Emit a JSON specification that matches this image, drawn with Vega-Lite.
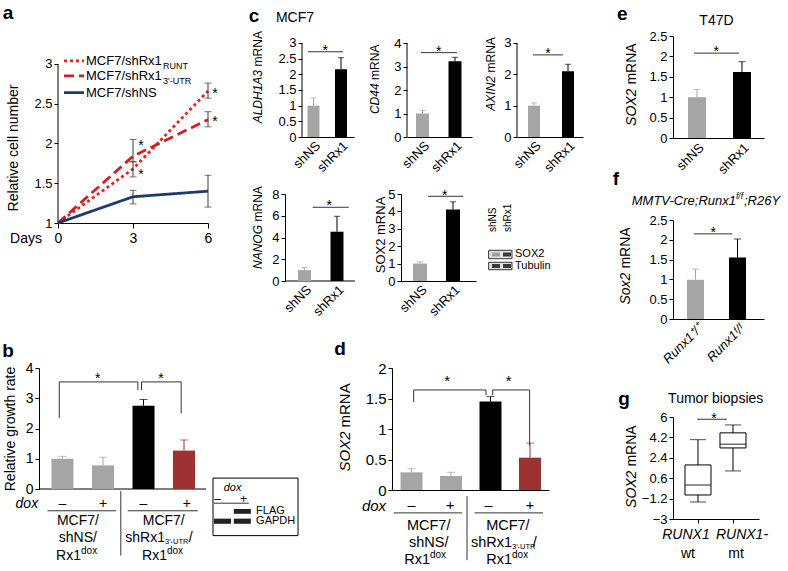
{
"$schema": "https://vega.github.io/schema/vega-lite/v6.json",
"padding": 0,
"config": {
  "font": "Liberation Sans",
  "view": {"stroke": null},
  "concat": {"spacing": 0},
  "scale": {"continuousPadding": 0},
  "axis": {"grid": false, "zindex": 1, "domainColor": "#000", "tickColor": "#000", "labelColor": "#000", "titleColor": "#000", "labelFontSize": 13, "titleFontSize": 14, "titleFontWeight": "normal", "tickSize": 4, "labelPadding": 2, "labelFlush": false, "labelOverlap": false, "domainWidth": 1, "tickWidth": 1},
  "text": {"fontSize": 14, "color": "#000"}
},
"spacing": 0,
"hconcat": [
 {"spacing": 0, "vconcat": [
  {"spacing": 0, "hconcat": [
   {"width": 150, "height": 187,
    "encoding": {"x": {"field": "x", "type": "quantitative", "scale": {"domain": [0, 6], "nice": false, "zero": false, "padding": 0}, "axis": {"values": [0, 3, 6], "title": null, "format": "d", "tickSize": 5, "labelPadding": 3, "labelFontSize": 14}},
                 "y": {"field": "y", "type": "quantitative", "scale": {"domain": [1, 3.352], "nice": false, "zero": false, "padding": 0}, "axis": {"values": [1, 1.5, 2, 2.5, 3], "format": ".1~f", "title": null, "domain": false}}},
    "layer": [
    {"data": {"values": [{"x": -2.28, "x2": 7.32, "y": -0.384, "y2": 3.792}]}, "mark": {"type": "rect", "opacity": 0}, "encoding": {"x2": {"field": "x2"}, "y2": {"field": "y2"}}},
    {"data": {"values": [{"x": 0, "y": 1, "y2": 3}]}, "mark": {"type": "rule", "color": "#000", "strokeWidth": 1}, "encoding": {"y2": {"field": "y2"}}},
    {"data": {"values": [{"series": "RUNT", "x": 0, "y": 1}, {"series": "RUNT", "x": 3, "y": 1.68}, {"series": "RUNT", "x": 6, "y": 2.66}, {"series": "UTR", "x": 0, "y": 1}, {"series": "UTR", "x": 3, "y": 1.84}, {"series": "UTR", "x": 6, "y": 2.3}, {"series": "NS", "x": 0, "y": 1}, {"series": "NS", "x": 3, "y": 1.33}, {"series": "NS", "x": 6, "y": 1.4}]},
     "mark": {"type": "line", "strokeWidth": 2.8},
     "encoding": {
      "stroke": {"field": "series", "type": "nominal", "scale": {"domain": ["RUNT", "UTR", "NS"], "range": ["#e0241f", "#cf1f26", "#1f3b6b"]}, "legend": null},
      "strokeDash": {"field": "series", "type": "nominal", "scale": {"domain": ["RUNT", "UTR", "NS"], "range": [[3, 3], [10, 5], [1, 0]]}, "legend": null}}},
    {"data": {"name": "aerr", "values": [{"series": "RUNT", "x": 3, "y": 1.58, "y2": 1.77}, {"series": "UTR", "x": 3, "y": 1.77, "y2": 2.05}, {"series": "RUNT", "x": 6, "y": 2.57, "y2": 2.76}, {"series": "UTR", "x": 6, "y": 2.21, "y2": 2.4}, {"series": "NS", "x": 3, "y": 1.24, "y2": 1.41}, {"series": "NS", "x": 6, "y": 1.2, "y2": 1.6}]},
     "mark": {"type": "rule", "color": "#3a3a3a", "strokeWidth": 1}, "encoding": {"y2": {"field": "y2"}}},
    {"data": {"name": "aerr"}, "mark": {"type": "tick", "orient": "horizontal", "size": 7, "thickness": 1, "color": "#3a3a3a"}},
    {"data": {"name": "aerr"}, "mark": {"type": "tick", "orient": "horizontal", "size": 7, "thickness": 1, "color": "#3a3a3a"},
     "encoding": {"y": {"field": "y2", "type": "quantitative", "axis": {"values": [1, 1.5, 2, 2.5, 3], "format": ".1~f", "title": null, "domain": false}}}},
    {"data": {"values": [{"x": 3.32, "y": 2.02}, {"x": 3.32, "y": 1.65}, {"x": 6.28, "y": 2.67}, {"x": 6.28, "y": 2.32}]},
     "mark": {"type": "text", "text": "*", "fontSize": 14, "baseline": "alphabetic", "dy": 8}},
    {"data": {"values": [{"series": "RUNT", "x": 0.24, "x2": 1.04, "y": 3.04}, {"series": "UTR", "x": 0.24, "x2": 1.04, "y": 2.85}, {"series": "NS", "x": 0.24, "x2": 1.04, "y": 2.64}]},
     "mark": {"type": "rule", "strokeWidth": 2.8},
     "encoding": {"x2": {"field": "x2"},
      "stroke": {"field": "series", "type": "nominal", "scale": {"domain": ["RUNT", "UTR", "NS"], "range": ["#e0241f", "#cf1f26", "#1f3b6b"]}, "legend": null},
      "strokeDash": {"field": "series", "type": "nominal", "scale": {"domain": ["RUNT", "UTR", "NS"], "range": [[3, 3], [10, 5], [1, 0]]}, "legend": null}}},
    {"data": {"values": [{"t": "MCF7/shRx1", "x": 1.12, "y": 3.04}, {"t": "MCF7/shRx1", "x": 1.12, "y": 2.85}, {"t": "MCF7/shNS", "x": 1.12, "y": 2.64}]},
     "mark": {"type": "text", "align": "left", "baseline": "middle", "fontSize": 13}, "encoding": {"text": {"field": "t"}}},
    {"data": {"values": [{"t": "RUNT", "x": 4.2, "y": 3.04}, {"t": "3\u2032-UTR", "x": 4.2, "y": 2.85}]},
     "mark": {"type": "text", "align": "left", "baseline": "middle", "fontSize": 9, "dy": 5}, "encoding": {"text": {"field": "t"}}},
    {"data": {"values": [{"t": "Days", "x": -1.28, "y": 0.8}]},
     "mark": {"type": "text", "align": "center", "baseline": "middle", "fontSize": 14}, "encoding": {"text": {"field": "t"}}},
    {"data": {"values": [{"t": "Relative cell number", "x": -1.76, "y": 1.943}]},
     "mark": {"type": "text", "align": "center", "baseline": "middle", "fontSize": 14, "angle": 270}, "encoding": {"text": {"field": "t"}}},
    {"data": {"values": [{"t": "a", "x": -2.0, "y": 3.64}]},
     "mark": {"type": "text", "align": "center", "baseline": "middle", "fontSize": 19, "fontWeight": "bold"}, "encoding": {"text": {"field": "t"}}}
   ]},
   {"spacing": 0, "vconcat": [
    {"spacing": 0, "hconcat": [
     {"width": 52, "height": 101,
      "encoding": {"x": {"field": "x", "type": "quantitative", "scale": {"domain": [0.582, 2.473], "nice": false, "zero": false, "padding": 0}, "axis": {"values": [1, 2], "labelExpr": "datum.value == 1 ? 'shNS' : 'shRx1'", "labelAngle": -45, "ticks": false, "title": null, "labelPadding": 2}},
                   "y": {"field": "y", "type": "quantitative", "scale": {"domain": [0, 3.223], "nice": false, "zero": false, "padding": 0}, "axis": {"values": [0, 0.5, 1, 1.5, 2, 2.5, 3], "format": ".1~f", "title": null, "domain": false}}},
      "layer": [
      {"data": {"values": [{"x": -1.6, "x2": 2.836, "y": -1.245, "y2": 4.341}]}, "mark": {"type": "rect", "opacity": 0}, "encoding": {"x2": {"field": "x2"}, "y2": {"field": "y2"}}},
      {"data": {"values": [{"x": 0.582, "y": 0, "y2": 3}]}, "mark": {"type": "rule", "color": "#000", "strokeWidth": 1}, "encoding": {"y2": {"field": "y2"}}},
      {"data": {"name": "c1", "values": [{"group": "shNS", "x": 1, "y": 1.0, "err": 1.25, "kind": "ctrl"}, {"group": "shRx1", "x": 2, "y": 2.16, "err": 2.53, "kind": "kd"}]},
       "mark": {"type": "rule", "strokeWidth": 1}, "encoding": {"y2": {"field": "err"}, "color": {"field": "kind", "type": "nominal", "scale": {"domain": ["ctrl", "kd", "rescue"], "range": ["#a5a5a5", "#000000", "#9d3232"]}, "legend": null}}},
      {"data": {"name": "c1"}, "mark": {"type": "tick", "orient": "horizontal", "size": 6, "thickness": 1},
       "encoding": {"y": {"field": "err", "type": "quantitative", "axis": {"values": [0, 0.5, 1, 1.5, 2, 2.5, 3], "format": ".1~f", "title": null, "domain": false}}, "color": {"field": "kind", "type": "nominal", "scale": {"domain": ["ctrl", "kd", "rescue"], "range": ["#a5a5a5", "#000000", "#9d3232"]}, "legend": null}}},
      {"data": {"name": "c1"}, "mark": {"type": "bar", "size": 12, "orient": "vertical"}, "encoding": {"y2": {"datum": 0}, "color": {"field": "kind", "type": "nominal", "scale": {"domain": ["ctrl", "kd", "rescue"], "range": ["#a5a5a5", "#000000", "#9d3232"]}, "legend": null}}},
      {"data": {"values": [{"x": 0.8, "x2": 2.07, "y": 2.72}]}, "mark": {"type": "rule", "color": "#333", "strokeWidth": 1}, "encoding": {"x2": {"field": "x2"}}},
      {"data": {"values": [{"x": 1.43, "y": 2.87}]}, "mark": {"type": "text", "text": "*", "fontSize": 14, "baseline": "alphabetic", "dy": 8}},
      {"data": {"values": [{"t": "ALDH1A3", "x": -1.018, "y": 2.14}]}, "mark": {"type": "text", "angle": 270, "align": "right", "baseline": "middle", "fontSize": 12, "fontStyle": "italic"}, "encoding": {"text": {"field": "t"}}},
      {"data": {"values": [{"t": "mRNA", "x": -1.018, "y": 2.14}]}, "mark": {"type": "text", "angle": 270, "align": "left", "baseline": "middle", "fontSize": 12, "dx": 3.5}, "encoding": {"text": {"field": "t"}}},
      {"data": {"values": [{"t": "c", "x": -1.164, "y": 3.862}]}, "mark": {"type": "text", "align": "center", "baseline": "middle", "fontSize": 19, "fontWeight": "bold"}, "encoding": {"text": {"field": "t"}}},
      {"data": {"values": [{"t": "MCF7", "x": 0.327, "y": 3.8}]}, "mark": {"type": "text", "align": "center", "baseline": "middle", "fontSize": 14}, "encoding": {"text": {"field": "t"}}}
     ]},
     {"width": 65, "height": 101,
      "encoding": {"x": {"field": "x", "type": "quantitative", "scale": {"domain": [0.523, 2.523], "nice": false, "zero": false, "padding": 0}, "axis": {"values": [1, 2], "labelExpr": "datum.value == 1 ? 'shNS' : 'shRx1'", "labelAngle": -45, "ticks": false, "title": null, "labelPadding": 2}},
                   "y": {"field": "y", "type": "quantitative", "scale": {"domain": [0, 4.298], "nice": false, "zero": false, "padding": 0}, "axis": {"values": [0, 1, 2, 3, 4], "format": "d", "title": null, "domain": false}}},
      "layer": [
      {"data": {"values": [{"x": -0.8, "x2": 2.769, "y": -1.66, "y2": 5.787}]}, "mark": {"type": "rect", "opacity": 0}, "encoding": {"x2": {"field": "x2"}, "y2": {"field": "y2"}}},
      {"data": {"values": [{"x": 0.523, "y": 0, "y2": 4}]}, "mark": {"type": "rule", "color": "#000", "strokeWidth": 1}, "encoding": {"y2": {"field": "y2"}}},
      {"data": {"name": "c2", "values": [{"group": "shNS", "x": 1, "y": 1.0, "err": 1.13, "kind": "ctrl"}, {"group": "shRx1", "x": 2, "y": 3.22, "err": 3.39, "kind": "kd"}]},
       "mark": {"type": "rule", "strokeWidth": 1}, "encoding": {"y2": {"field": "err"}, "color": {"field": "kind", "type": "nominal", "scale": {"domain": ["ctrl", "kd", "rescue"], "range": ["#a5a5a5", "#000000", "#9d3232"]}, "legend": null}}},
      {"data": {"name": "c2"}, "mark": {"type": "tick", "orient": "horizontal", "size": 6, "thickness": 1},
       "encoding": {"y": {"field": "err", "type": "quantitative", "axis": {"values": [0, 1, 2, 3, 4], "format": "d", "title": null, "domain": false}}, "color": {"field": "kind", "type": "nominal", "scale": {"domain": ["ctrl", "kd", "rescue"], "range": ["#a5a5a5", "#000000", "#9d3232"]}, "legend": null}}},
      {"data": {"name": "c2"}, "mark": {"type": "bar", "size": 13, "orient": "vertical"}, "encoding": {"y2": {"datum": 0}, "color": {"field": "kind", "type": "nominal", "scale": {"domain": ["ctrl", "kd", "rescue"], "range": ["#a5a5a5", "#000000", "#9d3232"]}, "legend": null}}},
      {"data": {"values": [{"x": 0.954, "x2": 2.06, "y": 3.59}]}, "mark": {"type": "rule", "color": "#333", "strokeWidth": 1}, "encoding": {"x2": {"field": "x2"}}},
      {"data": {"values": [{"x": 1.5, "y": 3.79}]}, "mark": {"type": "text", "text": "*", "fontSize": 14, "baseline": "alphabetic", "dy": 8}},
      {"data": {"values": [{"t": "CD44", "x": -0.4615, "y": 2.28}]}, "mark": {"type": "text", "angle": 270, "align": "right", "baseline": "middle", "fontSize": 12, "fontStyle": "italic"}, "encoding": {"text": {"field": "t"}}},
      {"data": {"values": [{"t": "mRNA", "x": -0.4615, "y": 2.28}]}, "mark": {"type": "text", "angle": 270, "align": "left", "baseline": "middle", "fontSize": 12, "dx": 3.5}, "encoding": {"text": {"field": "t"}}}
     ]},
     {"width": 66, "height": 101,
      "encoding": {"x": {"field": "x", "type": "quantitative", "scale": {"domain": [0.5, 2.441], "nice": false, "zero": false, "padding": 0}, "axis": {"values": [1, 2], "labelExpr": "datum.value == 1 ? 'shNS' : 'shRx1'", "labelAngle": -45, "ticks": false, "title": null, "labelPadding": 2}},
                   "y": {"field": "y", "type": "quantitative", "scale": {"domain": [0, 3.223], "nice": false, "zero": false, "padding": 0}, "axis": {"values": [0, 1, 2, 3], "format": "d", "title": null, "domain": false}}},
      "layer": [
      {"data": {"values": [{"x": -0.559, "x2": 3.029, "y": -1.245, "y2": 4.341}]}, "mark": {"type": "rect", "opacity": 0}, "encoding": {"x2": {"field": "x2"}, "y2": {"field": "y2"}}},
      {"data": {"values": [{"x": 0.5, "y": 0, "y2": 3}]}, "mark": {"type": "rule", "color": "#000", "strokeWidth": 1}, "encoding": {"y2": {"field": "y2"}}},
      {"data": {"name": "c3", "values": [{"group": "shNS", "x": 1, "y": 1.0, "err": 1.09, "kind": "ctrl"}, {"group": "shRx1", "x": 2, "y": 2.1, "err": 2.32, "kind": "kd"}]},
       "mark": {"type": "rule", "strokeWidth": 1}, "encoding": {"y2": {"field": "err"}, "color": {"field": "kind", "type": "nominal", "scale": {"domain": ["ctrl", "kd", "rescue"], "range": ["#a5a5a5", "#000000", "#9d3232"]}, "legend": null}}},
      {"data": {"name": "c3"}, "mark": {"type": "tick", "orient": "horizontal", "size": 6, "thickness": 1},
       "encoding": {"y": {"field": "err", "type": "quantitative", "axis": {"values": [0, 1, 2, 3], "format": "d", "title": null, "domain": false}}, "color": {"field": "kind", "type": "nominal", "scale": {"domain": ["ctrl", "kd", "rescue"], "range": ["#a5a5a5", "#000000", "#9d3232"]}, "legend": null}}},
      {"data": {"name": "c3"}, "mark": {"type": "bar", "size": 12, "orient": "vertical"}, "encoding": {"y2": {"datum": 0}, "color": {"field": "kind", "type": "nominal", "scale": {"domain": ["ctrl", "kd", "rescue"], "range": ["#a5a5a5", "#000000", "#9d3232"]}, "legend": null}}},
      {"data": {"values": [{"x": 0.97, "x2": 1.85, "y": 2.62}]}, "mark": {"type": "rule", "color": "#333", "strokeWidth": 1}, "encoding": {"x2": {"field": "x2"}}},
      {"data": {"values": [{"x": 1.41, "y": 2.77}]}, "mark": {"type": "text", "text": "*", "fontSize": 14, "baseline": "alphabetic", "dy": 8}},
      {"data": {"values": [{"t": "AXIN2", "x": -0.265, "y": 1.947}]}, "mark": {"type": "text", "angle": 270, "align": "right", "baseline": "middle", "fontSize": 12, "fontStyle": "italic"}, "encoding": {"text": {"field": "t"}}},
      {"data": {"values": [{"t": "mRNA", "x": -0.265, "y": 1.947}]}, "mark": {"type": "text", "angle": 270, "align": "left", "baseline": "middle", "fontSize": 12, "dx": 3.5}, "encoding": {"text": {"field": "t"}}}
     ]}
    ]},
    {"spacing": 0, "hconcat": [
     {"width": 53, "height": 87,
      "encoding": {"x": {"field": "x", "type": "quantitative", "scale": {"domain": [0.923, 2.554], "nice": false, "zero": false, "padding": 0}, "axis": {"values": [1, 2], "labelExpr": "datum.value == 1 ? 'shNS' : 'shRx1'", "labelAngle": -45, "ticks": false, "title": null, "labelPadding": 2, "domain": false}},
                   "y": {"field": "y", "type": "quantitative", "scale": {"domain": [0, 8], "nice": false, "zero": false, "padding": 0}, "axis": {"values": [0, 2, 4, 6, 8], "format": "d", "title": null, "offset": 17}}},
      "layer": [
      {"data": {"values": [{"x": -0.923, "x2": 2.831, "y": -4.966, "y2": 9.471}]}, "mark": {"type": "rect", "opacity": 0}, "encoding": {"x2": {"field": "x2"}, "y2": {"field": "y2"}}},
      {"data": {"values": [{"x": 0.4, "x2": 2.554, "y": 0}]}, "mark": {"type": "rule", "color": "#000", "strokeWidth": 1}, "encoding": {"x2": {"field": "x2"}}},
      {"data": {"name": "c4", "values": [{"group": "shNS", "x": 1, "y": 1.0, "err": 1.23, "kind": "ctrl"}, {"group": "shRx1", "x": 2, "y": 4.53, "err": 5.95, "kind": "kd"}]},
       "mark": {"type": "rule", "strokeWidth": 1}, "encoding": {"y2": {"field": "err"}, "color": {"field": "kind", "type": "nominal", "scale": {"domain": ["ctrl", "kd", "rescue"], "range": ["#a5a5a5", "#000000", "#9d3232"]}, "legend": null}}},
      {"data": {"name": "c4"}, "mark": {"type": "tick", "orient": "horizontal", "size": 6, "thickness": 1},
       "encoding": {"y": {"field": "err", "type": "quantitative", "axis": {"values": [0, 2, 4, 6, 8], "format": "d", "title": null, "offset": 17}}, "color": {"field": "kind", "type": "nominal", "scale": {"domain": ["ctrl", "kd", "rescue"], "range": ["#a5a5a5", "#000000", "#9d3232"]}, "legend": null}}},
      {"data": {"name": "c4"}, "mark": {"type": "bar", "size": 13, "orient": "vertical"}, "encoding": {"y2": {"datum": 0}, "color": {"field": "kind", "type": "nominal", "scale": {"domain": ["ctrl", "kd", "rescue"], "range": ["#a5a5a5", "#000000", "#9d3232"]}, "legend": null}}},
      {"data": {"values": [{"x": 1.25, "x2": 2.36, "y": 6.78}]}, "mark": {"type": "rule", "color": "#333", "strokeWidth": 1}, "encoding": {"x2": {"field": "x2"}}},
      {"data": {"values": [{"x": 1.76, "y": 7.26}]}, "mark": {"type": "text", "text": "*", "fontSize": 14, "baseline": "alphabetic", "dy": 8}},
      {"data": {"values": [{"t": "NANOG", "x": -0.431, "y": 5.149}]}, "mark": {"type": "text", "angle": 270, "align": "right", "baseline": "middle", "fontSize": 12, "fontStyle": "italic"}, "encoding": {"text": {"field": "t"}}},
      {"data": {"values": [{"t": "mRNA", "x": -0.431, "y": 5.149}]}, "mark": {"type": "text", "angle": 270, "align": "left", "baseline": "middle", "fontSize": 12, "dx": 3.5}, "encoding": {"text": {"field": "t"}}}
     ]},
     {"width": 75, "height": 87,
      "encoding": {"x": {"field": "x", "type": "quantitative", "scale": {"domain": [0.424, 2.697], "nice": false, "zero": false, "padding": 0}, "axis": {"values": [1, 2], "labelExpr": "datum.value == 1 ? 'shNS' : 'shRx1'", "labelAngle": -45, "ticks": false, "title": null, "labelPadding": 2}},
                   "y": {"field": "y", "type": "quantitative", "scale": {"domain": [0, 5], "nice": false, "zero": false, "padding": 0}, "axis": {"values": [0, 1, 2, 3, 4, 5], "format": "d", "title": null}}},
      "layer": [
      {"data": {"values": [{"x": -0.667, "x2": 6.545, "y": -3.103, "y2": 5.92}]}, "mark": {"type": "rect", "opacity": 0}, "encoding": {"x2": {"field": "x2"}, "y2": {"field": "y2"}}},
      {"data": {"name": "c5", "values": [{"group": "shNS", "x": 1, "y": 1.0, "err": 1.1, "kind": "ctrl"}, {"group": "shRx1", "x": 2, "y": 4.11, "err": 4.55, "kind": "kd"}]},
       "mark": {"type": "rule", "strokeWidth": 1}, "encoding": {"y2": {"field": "err"}, "color": {"field": "kind", "type": "nominal", "scale": {"domain": ["ctrl", "kd", "rescue"], "range": ["#a5a5a5", "#000000", "#9d3232"]}, "legend": null}}},
      {"data": {"name": "c5"}, "mark": {"type": "tick", "orient": "horizontal", "size": 6, "thickness": 1},
       "encoding": {"y": {"field": "err", "type": "quantitative", "axis": {"values": [0, 1, 2, 3, 4, 5], "format": "d", "title": null}}, "color": {"field": "kind", "type": "nominal", "scale": {"domain": ["ctrl", "kd", "rescue"], "range": ["#a5a5a5", "#000000", "#9d3232"]}, "legend": null}}},
      {"data": {"name": "c5"}, "mark": {"type": "bar", "size": 14, "orient": "vertical"}, "encoding": {"y2": {"datum": 0}, "color": {"field": "kind", "type": "nominal", "scale": {"domain": ["ctrl", "kd", "rescue"], "range": ["#a5a5a5", "#000000", "#9d3232"]}, "legend": null}}},
      {"data": {"values": [{"x": 1.242, "x2": 2.303, "y": 4.868}]}, "mark": {"type": "rule", "color": "#333", "strokeWidth": 1}, "encoding": {"x2": {"field": "x2"}}},
      {"data": {"values": [{"x": 1.75, "y": 5.138}]}, "mark": {"type": "text", "text": "*", "fontSize": 14, "baseline": "alphabetic", "dy": 8}},
      {"data": {"values": [{"t": "SOX2 mRNA", "x": -0.182, "y": 2.644}]}, "mark": {"type": "text", "angle": 270, "align": "center", "baseline": "middle", "fontSize": 13}, "encoding": {"text": {"field": "t"}}},
      {"data": {"values": [{"x": 3.081, "x2": 3.788, "y": 1.282, "y2": 1.764}, {"x": 3.081, "x2": 3.788, "y": 0.649, "y2": 1.075}]}, "mark": {"type": "rect", "fill": "#e2e2e2", "stroke": "#333", "strokeWidth": 1}, "encoding": {"x2": {"field": "x2"}, "y2": {"field": "y2"}}},
      {"data": {"values": [{"x": 3.515, "x2": 3.758, "y": 1.408, "y2": 1.638}, {"x": 3.182, "x2": 3.424, "y": 0.747, "y2": 0.977}, {"x": 3.515, "x2": 3.758, "y": 0.747, "y2": 0.977}]}, "mark": {"type": "rect", "fill": "#3a3a3a"}, "encoding": {"x2": {"field": "x2"}, "y2": {"field": "y2"}}},
      {"data": {"values": [{"x": 3.182, "x2": 3.424, "y": 1.408, "y2": 1.638}]}, "mark": {"type": "rect", "fill": "#a0a0a0"}, "encoding": {"x2": {"field": "x2"}, "y2": {"field": "y2"}}},
      {"data": {"values": [{"t": "shNS", "x": 3.212, "y": 2.816}, {"t": "shRx1", "x": 3.667, "y": 2.816}]}, "mark": {"type": "text", "angle": 270, "align": "left", "baseline": "middle", "fontSize": 10}, "encoding": {"text": {"field": "t"}}},
      {"data": {"values": [{"t": "SOX2", "x": 3.879, "y": 1.523}, {"t": "Tubulin", "x": 3.879, "y": 0.862}]}, "mark": {"type": "text", "align": "left", "baseline": "middle", "fontSize": 11}, "encoding": {"text": {"field": "t"}}}
     ]}
    ]}
   ]}
  ]},
  {"spacing": 0, "hconcat": [
   {"width": 148, "height": 121,
    "encoding": {"x": {"field": "x", "type": "quantitative", "scale": {"domain": [0.889, 4.543], "nice": false, "zero": false, "padding": 0}, "axis": null},
                 "y": {"field": "y", "type": "quantitative", "scale": {"domain": [0, 4], "nice": false, "zero": false, "padding": 0}, "axis": {"values": [0, 1, 2, 3, 4], "format": "d", "title": "Relative growth rate", "titlePadding": 8, "labelFontSize": 14, "offset": 19}}},
    "layer": [
    {"data": {"values": [{"x": -0.519, "x2": 6.889, "y": -2.744, "y2": 5.025}]}, "mark": {"type": "rect", "opacity": 0}, "encoding": {"x2": {"field": "x2"}, "y2": {"field": "y2"}}},
    {"data": {"values": [{"x": 0.42, "x2": 4.543, "y": 0}]}, "mark": {"type": "rule", "color": "#000", "strokeWidth": 1}, "encoding": {"x2": {"field": "x2"}}},
    {"data": {"name": "bb", "values": [{"line": "shNS", "dox": "minus", "x": 1, "y": 1.0, "err": 1.08, "kind": "ctrl"}, {"line": "shNS", "dox": "plus", "x": 2, "y": 0.78, "err": 1.05, "kind": "ctrl"}, {"line": "shRx1", "dox": "minus", "x": 3, "y": 2.75, "err": 2.96, "kind": "kd"}, {"line": "shRx1", "dox": "plus", "x": 4, "y": 1.27, "err": 1.62, "kind": "rescue"}]},
     "mark": {"type": "rule", "strokeWidth": 1}, "encoding": {"y2": {"field": "err"}, "color": {"field": "kind", "type": "nominal", "scale": {"domain": ["ctrl", "kd", "rescue"], "range": ["#a5a5a5", "#000000", "#9d3232"]}, "legend": null}}},
    {"data": {"name": "bb"}, "mark": {"type": "tick", "orient": "horizontal", "size": 8, "thickness": 1},
     "encoding": {"y": {"field": "err", "type": "quantitative", "axis": {"values": [0, 1, 2, 3, 4], "format": "d", "title": "Relative growth rate", "titlePadding": 8, "labelFontSize": 14, "offset": 19}}, "color": {"field": "kind", "type": "nominal", "scale": {"domain": ["ctrl", "kd", "rescue"], "range": ["#a5a5a5", "#000000", "#9d3232"]}, "legend": null}}},
    {"data": {"name": "bb"}, "mark": {"type": "bar", "size": 22, "orient": "vertical"}, "encoding": {"y2": {"datum": 0}, "color": {"field": "kind", "type": "nominal", "scale": {"domain": ["ctrl", "kd", "rescue"], "range": ["#a5a5a5", "#000000", "#9d3232"]}, "legend": null}}},
    {"data": {"values": [{"x": 0.92, "y": 2.34, "x2": 0.92, "y2": 3.54}, {"x": 0.92, "y": 3.54, "x2": 2.86, "y2": 3.54}, {"x": 2.86, "y": 3.54, "x2": 2.86, "y2": 3.27}, {"x": 2.95, "y": 3.27, "x2": 2.95, "y2": 3.54}, {"x": 2.95, "y": 3.54, "x2": 3.93, "y2": 3.54}, {"x": 3.93, "y": 3.54, "x2": 3.93, "y2": 2.5}, {"x": 0.63, "y": -0.72, "x2": 2.32, "y2": -0.72}, {"x": 2.61, "y": -0.72, "x2": 4.34, "y2": -0.72}, {"x": 2.44, "y": -0.07, "x2": 2.44, "y2": -2.2}]},
     "mark": {"type": "rule", "color": "#333", "strokeWidth": 1}, "encoding": {"x2": {"field": "x2"}, "y2": {"field": "y2"}}},
    {"data": {"values": [{"x": 1.87, "y": 3.77}, {"x": 3.43, "y": 3.77}]}, "mark": {"type": "text", "text": "*", "fontSize": 14, "baseline": "alphabetic", "dy": 8}},
    {"data": {"values": [{"t": "\u2013", "x": 1, "y": -0.5}, {"t": "+", "x": 2, "y": -0.5}, {"t": "\u2013", "x": 3, "y": -0.5}, {"t": "+", "x": 4.07, "y": -0.5}, {"t": "MCF7/", "x": 1.38, "y": -1.05}, {"t": "shNS/", "x": 1.38, "y": -1.61}, {"t": "MCF7/", "x": 3.5, "y": -1.05}]},
     "mark": {"type": "text", "align": "center", "baseline": "middle", "fontSize": 14}, "encoding": {"text": {"field": "t"}}},
    {"data": {"values": [{"t": "Rx1", "x": 1.457, "y": -2.2}, {"t": "shRx1", "x": 3.53, "y": -1.61}, {"t": "Rx1", "x": 3.58, "y": -2.2}]},
     "mark": {"type": "text", "align": "right", "baseline": "middle", "fontSize": 14}, "encoding": {"text": {"field": "t"}}},
    {"data": {"values": [{"t": "dox", "x": 1.457, "y": -2.2}, {"t": "dox", "x": 3.58, "y": -2.2}]},
     "mark": {"type": "text", "align": "left", "baseline": "middle", "fontSize": 10, "dy": -5}, "encoding": {"text": {"field": "t"}}},
    {"data": {"values": [{"t": "3\u2032-UTR", "x": 3.53, "y": -1.61}]},
     "mark": {"type": "text", "align": "left", "baseline": "middle", "fontSize": 7.5, "dy": 4}, "encoding": {"text": {"field": "t"}}},
    {"data": {"values": [{"t": "/", "x": 4.12, "y": -1.61}]},
     "mark": {"type": "text", "align": "left", "baseline": "middle", "fontSize": 14}, "encoding": {"text": {"field": "t"}}},
    {"data": {"values": [{"t": "dox", "x": 0.12, "y": -0.5}]},
     "mark": {"type": "text", "align": "center", "baseline": "middle", "fontSize": 14, "fontStyle": "italic"}, "encoding": {"text": {"field": "t"}}},
    {"data": {"values": [{"x": 4.716, "x2": 6.815, "y": -1.541, "y2": 0.361}]}, "mark": {"type": "rect", "fill": "#ffffff", "stroke": "#000", "strokeWidth": 1}, "encoding": {"x2": {"field": "x2"}, "y2": {"field": "y2"}}},
    {"data": {"values": [{"x": 4.74, "y": -0.47, "x2": 5.6, "y2": -0.47}]}, "mark": {"type": "rule", "color": "#333", "strokeWidth": 1}, "encoding": {"x2": {"field": "x2"}, "y2": {"field": "y2"}}},
    {"data": {"values": [{"x": 5.23, "x2": 5.65, "y": -0.82, "y2": -0.66}, {"x": 4.74, "x2": 5.16, "y": -1.15, "y2": -0.98}, {"x": 5.23, "x2": 5.65, "y": -1.15, "y2": -0.98}]}, "mark": {"type": "rect", "fill": "#222"}, "encoding": {"x2": {"field": "x2"}, "y2": {"field": "y2"}}},
    {"data": {"values": [{"t": "FLAG", "x": 5.78, "y": -0.74}, {"t": "GAPDH", "x": 5.78, "y": -1.07}]},
     "mark": {"type": "text", "align": "left", "baseline": "middle", "fontSize": 11}, "encoding": {"text": {"field": "t"}}},
    {"data": {"values": [{"t": "dox", "x": 5.2, "y": 0.04}]},
     "mark": {"type": "text", "align": "center", "baseline": "middle", "fontSize": 11, "fontStyle": "italic"}, "encoding": {"text": {"field": "t"}}},
    {"data": {"values": [{"t": "\u2013", "x": 4.83, "y": -0.34}, {"t": "+", "x": 5.47, "y": -0.34}]},
     "mark": {"type": "text", "align": "center", "baseline": "middle", "fontSize": 12}, "encoding": {"text": {"field": "t"}}},
    {"data": {"values": [{"t": "b", "x": -0.346, "y": 4.562}]},
     "mark": {"type": "text", "align": "center", "baseline": "middle", "fontSize": 19, "fontWeight": "bold"}, "encoding": {"text": {"field": "t"}}}
   ]},
   {"width": 157, "height": 122,
    "encoding": {"x": {"field": "x", "type": "quantitative", "scale": {"domain": [0.506, 4.481], "nice": false, "zero": false, "padding": 0}, "axis": {"labels": false, "ticks": false, "title": null}},
                 "y": {"field": "y", "type": "quantitative", "scale": {"domain": [0, 2], "nice": false, "zero": false, "padding": 0}, "axis": {"values": [0, 0.5, 1, 1.5, 2], "format": ".1~f", "title": null, "labelFontSize": 15}}},
    "layer": [
    {"data": {"values": [{"x": -1.772, "x2": 5.823, "y": -1.344, "y2": 2.508}]}, "mark": {"type": "rect", "opacity": 0}, "encoding": {"x2": {"field": "x2"}, "y2": {"field": "y2"}}},
    {"data": {"name": "dd", "values": [{"line": "shNS", "dox": "minus", "x": 1, "y": 0.29, "err": 0.35, "kind": "ctrl"}, {"line": "shNS", "dox": "plus", "x": 2, "y": 0.23, "err": 0.29, "kind": "ctrl"}, {"line": "shRx1", "dox": "minus", "x": 3, "y": 1.45, "err": 1.53, "kind": "kd"}, {"line": "shRx1", "dox": "plus", "x": 4, "y": 0.53, "err": 0.77, "kind": "rescue"}]},
     "mark": {"type": "rule", "strokeWidth": 1}, "encoding": {"y2": {"field": "err"}, "color": {"field": "kind", "type": "nominal", "scale": {"domain": ["ctrl", "kd", "rescue"], "range": ["#a5a5a5", "#000000", "#9d3232"]}, "legend": null}}},
    {"data": {"name": "dd"}, "mark": {"type": "tick", "orient": "horizontal", "size": 8, "thickness": 1},
     "encoding": {"y": {"field": "err", "type": "quantitative", "axis": {"values": [0, 0.5, 1, 1.5, 2], "format": ".1~f", "title": null, "labelFontSize": 15}}, "color": {"field": "kind", "type": "nominal", "scale": {"domain": ["ctrl", "kd", "rescue"], "range": ["#a5a5a5", "#000000", "#9d3232"]}, "legend": null}}},
    {"data": {"name": "dd"}, "mark": {"type": "bar", "size": 22, "orient": "vertical"}, "encoding": {"y2": {"datum": 0}, "color": {"field": "kind", "type": "nominal", "scale": {"domain": ["ctrl", "kd", "rescue"], "range": ["#a5a5a5", "#000000", "#9d3232"]}, "legend": null}}},
    {"data": {"values": [{"x": 1.055, "y": 1.44, "x2": 1.055, "y2": 1.64}, {"x": 1.055, "y": 1.64, "x2": 2.886, "y2": 1.64}, {"x": 2.886, "y": 1.64, "x2": 2.886, "y2": 1.55}, {"x": 3.055, "y": 1.55, "x2": 3.055, "y2": 1.64}, {"x": 3.055, "y": 1.64, "x2": 3.99, "y2": 1.64}, {"x": 3.99, "y": 1.64, "x2": 3.99, "y2": 0.73}, {"x": 0.55, "y": -0.375, "x2": 2.28, "y2": -0.375}, {"x": 2.6, "y": -0.375, "x2": 4.33, "y2": -0.375}, {"x": 2.405, "y": -0.1, "x2": 2.405, "y2": -1.15}]},
     "mark": {"type": "rule", "color": "#333", "strokeWidth": 1}, "encoding": {"x2": {"field": "x2"}, "y2": {"field": "y2"}}},
    {"data": {"values": [{"x": 1.9, "y": 1.84}, {"x": 3.46, "y": 1.84}]}, "mark": {"type": "text", "text": "*", "fontSize": 15, "baseline": "alphabetic", "dy": 8}},
    {"data": {"values": [{"t": "\u2013", "x": 1, "y": -0.26}, {"t": "+", "x": 1.98, "y": -0.26}, {"t": "\u2013", "x": 2.95, "y": -0.26}, {"t": "+", "x": 4.0, "y": -0.26}, {"t": "MCF7/", "x": 1.435, "y": -0.59}, {"t": "shNS/", "x": 1.435, "y": -0.87}, {"t": "MCF7/", "x": 3.44, "y": -0.59}]},
     "mark": {"type": "text", "align": "center", "baseline": "middle", "fontSize": 14.5}, "encoding": {"text": {"field": "t"}}},
    {"data": {"values": [{"t": "Rx1", "x": 1.468, "y": -1.14}, {"t": "shRx1", "x": 3.545, "y": -0.87}, {"t": "Rx1", "x": 3.545, "y": -1.14}]},
     "mark": {"type": "text", "align": "right", "baseline": "middle", "fontSize": 14.5}, "encoding": {"text": {"field": "t"}}},
    {"data": {"values": [{"t": "dox", "x": 1.468, "y": -1.14}, {"t": "dox", "x": 3.545, "y": -1.14}]},
     "mark": {"type": "text", "align": "left", "baseline": "middle", "fontSize": 10, "dy": -5}, "encoding": {"text": {"field": "t"}}},
    {"data": {"values": [{"t": "3\u2032-UTR", "x": 3.545, "y": -0.87}]},
     "mark": {"type": "text", "align": "left", "baseline": "middle", "fontSize": 7.5, "dy": 4}, "encoding": {"text": {"field": "t"}}},
    {"data": {"values": [{"t": "/", "x": 4.07, "y": -0.87}]},
     "mark": {"type": "text", "align": "left", "baseline": "middle", "fontSize": 14.5}, "encoding": {"text": {"field": "t"}}},
    {"data": {"values": [{"t": "dox", "x": 0.05, "y": -0.26}]},
     "mark": {"type": "text", "align": "center", "baseline": "middle", "fontSize": 15, "fontStyle": "italic"}, "encoding": {"text": {"field": "t"}}},
    {"data": {"values": [{"t": "SOX2", "x": -0.684, "y": 0.959}]}, "mark": {"type": "text", "angle": 270, "align": "right", "baseline": "middle", "fontSize": 15, "fontStyle": "italic"}, "encoding": {"text": {"field": "t"}}},
    {"data": {"values": [{"t": "mRNA", "x": -0.684, "y": 0.959}]}, "mark": {"type": "text", "angle": 270, "align": "left", "baseline": "middle", "fontSize": 15, "dx": 4}, "encoding": {"text": {"field": "t"}}},
    {"data": {"values": [{"t": "d", "x": -0.81, "y": 2.311}]},
     "mark": {"type": "text", "align": "center", "baseline": "middle", "fontSize": 19, "fontWeight": "bold"}, "encoding": {"text": {"field": "t"}}}
   ]}
  ]}
 ]},
 {"spacing": 0, "vconcat": [
  {"width": 91, "height": 102,
   "encoding": {"x": {"field": "x", "type": "quantitative", "scale": {"domain": [0.467, 2.489], "nice": false, "zero": false, "padding": 0}, "axis": {"values": [1, 2], "labelExpr": "datum.value == 1 ? 'shNS' : 'shRx1'", "labelAngle": -45, "ticks": false, "title": null, "labelPadding": 3}},
                "y": {"field": "y", "type": "quantitative", "scale": {"domain": [0, 2.5], "nice": false, "zero": false, "padding": 0}, "axis": {"values": [0, 0.5, 1, 1.5, 2, 2.5], "format": ".1~f", "title": null}}},
   "layer": [
   {"data": {"values": [{"x": -1.067, "x2": 3.111, "y": -1.299, "y2": 3.358}]}, "mark": {"type": "rect", "opacity": 0}, "encoding": {"x2": {"field": "x2"}, "y2": {"field": "y2"}}},
   {"data": {"name": "ee", "values": [{"group": "shNS", "x": 1, "y": 1.0, "err": 1.19, "kind": "ctrl"}, {"group": "shRx1", "x": 2, "y": 1.62, "err": 1.87, "kind": "kd"}]},
    "mark": {"type": "rule", "strokeWidth": 1}, "encoding": {"y2": {"field": "err"}, "color": {"field": "kind", "type": "nominal", "scale": {"domain": ["ctrl", "kd", "rescue"], "range": ["#a5a5a5", "#000000", "#9d3232"]}, "legend": null}}},
   {"data": {"name": "ee"}, "mark": {"type": "tick", "orient": "horizontal", "size": 7, "thickness": 1},
    "encoding": {"y": {"field": "err", "type": "quantitative", "axis": {"values": [0, 0.5, 1, 1.5, 2, 2.5], "format": ".1~f", "title": null}}, "color": {"field": "kind", "type": "nominal", "scale": {"domain": ["ctrl", "kd", "rescue"], "range": ["#a5a5a5", "#000000", "#9d3232"]}, "legend": null}}},
   {"data": {"name": "ee"}, "mark": {"type": "bar", "size": 18, "orient": "vertical"}, "encoding": {"y2": {"datum": 0}, "color": {"field": "kind", "type": "nominal", "scale": {"domain": ["ctrl", "kd", "rescue"], "range": ["#a5a5a5", "#000000", "#9d3232"]}, "legend": null}}},
   {"data": {"values": [{"x": 0.933, "x2": 1.933, "y": 2.08}]}, "mark": {"type": "rule", "color": "#333", "strokeWidth": 1}, "encoding": {"x2": {"field": "x2"}}},
   {"data": {"values": [{"x": 1.43, "y": 2.2}]}, "mark": {"type": "text", "text": "*", "fontSize": 14, "baseline": "alphabetic", "dy": 8}},
   {"data": {"values": [{"t": "SOX2", "x": -0.438, "y": 1.211}]}, "mark": {"type": "text", "angle": 270, "align": "right", "baseline": "middle", "fontSize": 14, "fontStyle": "italic"}, "encoding": {"text": {"field": "t"}}},
   {"data": {"values": [{"t": "mRNA", "x": -0.438, "y": 1.211}]}, "mark": {"type": "text", "angle": 270, "align": "left", "baseline": "middle", "fontSize": 14, "dx": 4}, "encoding": {"text": {"field": "t"}}},
   {"data": {"values": [{"t": "T47D", "x": 1.433, "y": 2.87}]}, "mark": {"type": "text", "align": "center", "baseline": "middle", "fontSize": 14}, "encoding": {"text": {"field": "t"}}},
   {"data": {"values": [{"t": "e", "x": -0.659, "y": 3.03}, {"t": "f", "x": -0.8, "y": -1.005}]}, "mark": {"type": "text", "align": "center", "baseline": "middle", "fontSize": 19, "fontWeight": "bold"}, "encoding": {"text": {"field": "t"}}}
  ]},
  {"width": 91, "height": 99,
   "encoding": {"x": {"field": "x", "type": "quantitative", "scale": {"domain": [0.464, 2.631], "nice": false, "zero": false, "padding": 0}, "axis": {"values": [1, 2], "labelExpr": "datum.value == 1 ? 'Runx1\u207a/\u207a' : 'Runx1\u1da0/\u1da0'", "labelAngle": -45, "ticks": false, "title": null, "labelPadding": 3, "labelFontStyle": "italic"}},
                "y": {"field": "y", "type": "quantitative", "scale": {"domain": [0, 2.5], "nice": false, "zero": false, "padding": 0}, "axis": {"values": [0, 0.5, 1, 1.5, 2, 2.5], "format": ".1~f", "title": null}}},
   "layer": [
   {"data": {"values": [{"x": -1.179, "x2": 3.298, "y": -1.591, "y2": 3.207}]}, "mark": {"type": "rect", "opacity": 0}, "encoding": {"x2": {"field": "x2"}, "y2": {"field": "y2"}}},
   {"data": {"name": "ff", "values": [{"group": "Runx1+/+", "x": 1, "y": 0.99, "err": 1.26, "kind": "ctrl"}, {"group": "Runx1f/f", "x": 2, "y": 1.55, "err": 2.02, "kind": "kd"}]},
    "mark": {"type": "rule", "strokeWidth": 1}, "encoding": {"y2": {"field": "err"}, "color": {"field": "kind", "type": "nominal", "scale": {"domain": ["ctrl", "kd", "rescue"], "range": ["#a5a5a5", "#000000", "#9d3232"]}, "legend": null}}},
   {"data": {"name": "ff"}, "mark": {"type": "tick", "orient": "horizontal", "size": 7, "thickness": 1},
    "encoding": {"y": {"field": "err", "type": "quantitative", "axis": {"values": [0, 0.5, 1, 1.5, 2, 2.5], "format": ".1~f", "title": null}}, "color": {"field": "kind", "type": "nominal", "scale": {"domain": ["ctrl", "kd", "rescue"], "range": ["#a5a5a5", "#000000", "#9d3232"]}, "legend": null}}},
   {"data": {"name": "ff"}, "mark": {"type": "bar", "size": 17, "orient": "vertical"}, "encoding": {"y2": {"datum": 0}, "color": {"field": "kind", "type": "nominal", "scale": {"domain": ["ctrl", "kd", "rescue"], "range": ["#a5a5a5", "#000000", "#9d3232"]}, "legend": null}}},
   {"data": {"values": [{"x": 0.965, "x2": 1.877, "y": 2.15}]}, "mark": {"type": "rule", "color": "#333", "strokeWidth": 1}, "encoding": {"x2": {"field": "x2"}}},
   {"data": {"values": [{"x": 1.423, "y": 2.27}]}, "mark": {"type": "text", "text": "*", "fontSize": 14, "baseline": "alphabetic", "dy": 8}},
   {"data": {"values": [{"t": "Sox2", "x": -0.655, "y": 1.172}]}, "mark": {"type": "text", "angle": 270, "align": "right", "baseline": "middle", "fontSize": 14, "fontStyle": "italic"}, "encoding": {"text": {"field": "t"}}},
   {"data": {"values": [{"t": "mRNA", "x": -0.655, "y": 1.172}]}, "mark": {"type": "text", "angle": 270, "align": "left", "baseline": "middle", "fontSize": 14, "dx": 4}, "encoding": {"text": {"field": "t"}}},
   {"data": {"values": [{"t": "MMTV-Cre;Runx1", "x": 1.964, "y": 2.98}]}, "mark": {"type": "text", "align": "right", "baseline": "middle", "fontSize": 13, "fontStyle": "italic"}, "encoding": {"text": {"field": "t"}}},
   {"data": {"values": [{"t": "f/f", "x": 1.964, "y": 2.98}]}, "mark": {"type": "text", "align": "left", "baseline": "middle", "fontSize": 8.5, "fontStyle": "italic", "dy": -5}, "encoding": {"text": {"field": "t"}}},
   {"data": {"values": [{"t": ";R26Y", "x": 2.155, "y": 2.98}]}, "mark": {"type": "text", "align": "left", "baseline": "middle", "fontSize": 13, "fontStyle": "italic"}, "encoding": {"text": {"field": "t"}}}
  ]},
  {"width": 86, "height": 102,
   "encoding": {"x": {"field": "x", "type": "quantitative", "scale": {"domain": [0.286, 2.743], "nice": false, "zero": false, "padding": 0}, "axis": {"values": [1, 2], "labels": false, "tickSize": 4, "title": null}},
                "y": {"field": "y", "type": "quantitative", "scale": {"domain": [-3, 6], "nice": false, "zero": false, "padding": 0}, "axis": {"values": [-3, -1.2, 0.6, 2.4, 4.2, 6], "format": ".1~f", "title": null}}},
   "layer": [
   {"data": {"values": [{"x": -1.686, "x2": 3.686, "y": -7.766, "y2": 8.915}]}, "mark": {"type": "rect", "opacity": 0}, "encoding": {"x2": {"field": "x2"}, "y2": {"field": "y2"}}},
   {"data": {"name": "gg", "values": [{"group": "wt", "x": 1, "y": -1.5, "q1": -0.88, "median": 0.0, "q3": 1.77, "y2": 4.0}, {"group": "mt", "x": 2, "y": 1.24, "q1": 3.27, "median": 3.6, "q3": 4.6, "y2": 5.3}]},
    "mark": {"type": "rule", "color": "#000", "strokeWidth": 1}, "encoding": {"y2": {"field": "y2"}}},
   {"data": {"name": "gg"}, "mark": {"type": "bar", "size": 26, "orient": "vertical", "fill": "#ffffff", "stroke": "#000", "strokeWidth": 1},
    "encoding": {"y": {"field": "q1", "type": "quantitative", "axis": {"values": [-3, -1.2, 0.6, 2.4, 4.2, 6], "format": ".1~f", "title": null}}, "y2": {"field": "q3"}}},
   {"data": {"name": "gg"}, "mark": {"type": "tick", "orient": "horizontal", "size": 26, "thickness": 1.2, "color": "#000"},
    "encoding": {"y": {"field": "median", "type": "quantitative", "axis": {"values": [-3, -1.2, 0.6, 2.4, 4.2, 6], "format": ".1~f", "title": null}}}},
   {"data": {"name": "gg"}, "mark": {"type": "tick", "orient": "horizontal", "size": 16, "thickness": 1, "color": "#000"}},
   {"data": {"name": "gg"}, "mark": {"type": "tick", "orient": "horizontal", "size": 16, "thickness": 1, "color": "#000"},
    "encoding": {"y": {"field": "y2", "type": "quantitative", "axis": {"values": [-3, -1.2, 0.6, 2.4, 4.2, 6], "format": ".1~f", "title": null}}}},
   {"data": {"values": [{"x": 0.98, "x2": 1.823, "y": 5.8}]}, "mark": {"type": "rule", "color": "#333", "strokeWidth": 1}, "encoding": {"x2": {"field": "x2"}}},
   {"data": {"values": [{"x": 1.457, "y": 6.2}]}, "mark": {"type": "text", "text": "*", "fontSize": 14, "baseline": "alphabetic", "dy": 8}},
   {"data": {"values": [{"t": "SOX2", "x": -0.877, "y": 1.272}]}, "mark": {"type": "text", "angle": 270, "align": "right", "baseline": "middle", "fontSize": 14, "fontStyle": "italic"}, "encoding": {"text": {"field": "t"}}},
   {"data": {"values": [{"t": "mRNA", "x": -0.877, "y": 1.272}]}, "mark": {"type": "text", "angle": 270, "align": "left", "baseline": "middle", "fontSize": 14, "dx": 4}, "encoding": {"text": {"field": "t"}}},
   {"data": {"values": [{"t": "RUNX1", "x": 0.657, "y": -4.412}, {"t": "RUNX1-", "x": 2.257, "y": -4.412}]}, "mark": {"type": "text", "align": "center", "baseline": "middle", "fontSize": 14, "fontStyle": "italic"}, "encoding": {"text": {"field": "t"}}},
   {"data": {"values": [{"t": "wt", "x": 0.714, "y": -6.089}, {"t": "mt", "x": 2.086, "y": -6.089}, {"t": "Tumor biopsies", "x": 1.506, "y": 7.617}]}, "mark": {"type": "text", "align": "center", "baseline": "middle", "fontSize": 14}, "encoding": {"text": {"field": "t"}}},
   {"data": {"values": [{"t": "g", "x": -1.114, "y": 7.617}]}, "mark": {"type": "text", "align": "center", "baseline": "middle", "fontSize": 19, "fontWeight": "bold"}, "encoding": {"text": {"field": "t"}}}
  ]}
 ]}
]
}
